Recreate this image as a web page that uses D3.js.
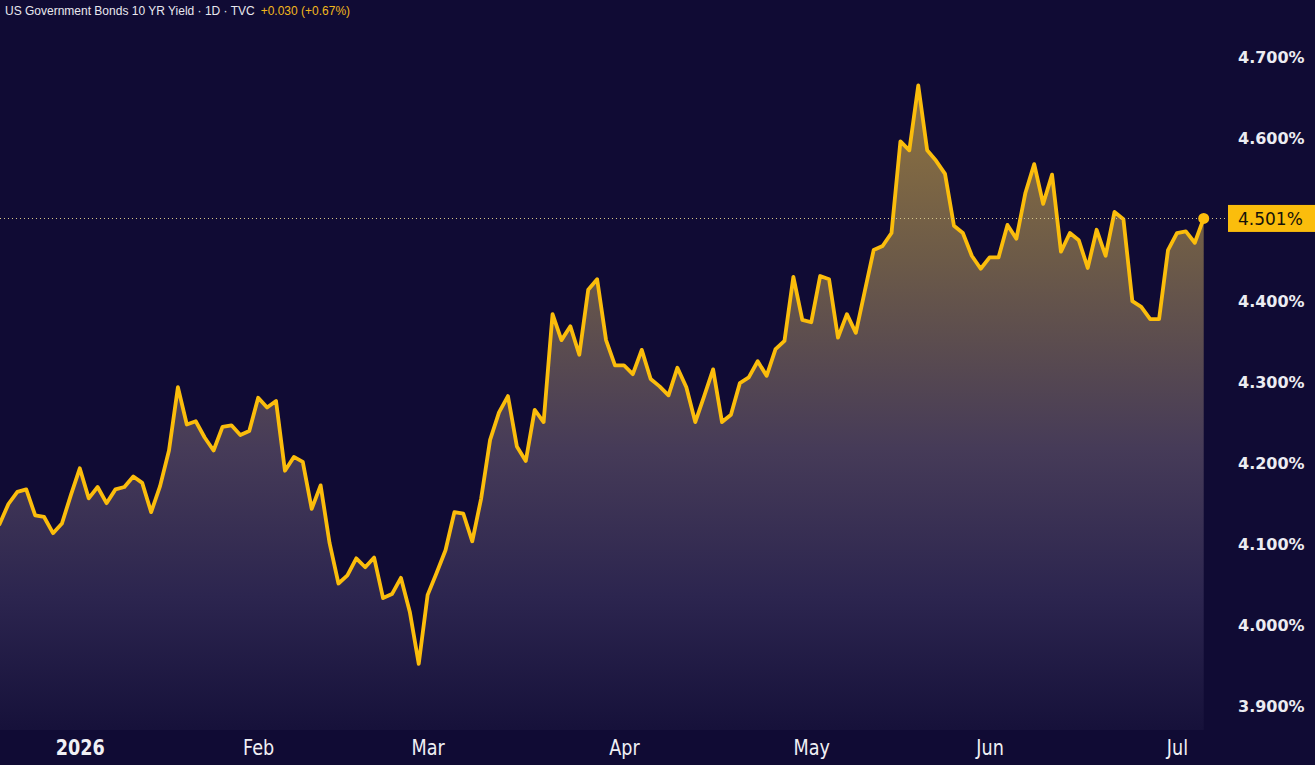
<!DOCTYPE html>
<html>
<head>
<meta charset="utf-8">
<script src="https://cdn.jsdelivr.net/npm/d3@7"></script>
<style>
  html, body { margin: 0; padding: 0; background: #100b34; }
  svg { display: block; }
</style>
</head>
<body>
<svg id="chart" width="1315" height="765"></svg>
<script>
// ---- data (daily closes, trading-day index) ----
const yields = [
  4.124, 4.149, 4.164, 4.167, 4.135, 4.133, 4.113, 4.125, 4.160, 4.193,
  4.156, 4.170, 4.150, 4.167, 4.170, 4.183, 4.175, 4.139, 4.171, 4.215,
  4.293, 4.247, 4.251, 4.231, 4.215, 4.244, 4.246, 4.234, 4.239, 4.280,
  4.268, 4.276, 4.190, 4.207, 4.201, 4.143, 4.172, 4.101, 4.051, 4.061,
  4.082, 4.071, 4.083, 4.033, 4.038, 4.058, 4.016, 3.952, 4.037, 4.064,
  4.092, 4.139, 4.137, 4.103, 4.156, 4.228, 4.262, 4.282, 4.220, 4.202,
  4.265, 4.250, 4.383, 4.351, 4.368, 4.333, 4.413, 4.426, 4.351, 4.320,
  4.320, 4.309, 4.339, 4.303, 4.294, 4.283, 4.317, 4.293, 4.250, 4.282,
  4.315, 4.250, 4.259, 4.298, 4.305, 4.325, 4.307, 4.340, 4.350, 4.429,
  4.376, 4.373, 4.430, 4.426, 4.354, 4.383, 4.360, 4.411, 4.462, 4.467,
  4.483, 4.596, 4.585, 4.665, 4.585, 4.572, 4.556, 4.492, 4.483, 4.455,
  4.439, 4.453, 4.453, 4.493, 4.476, 4.532, 4.568, 4.519, 4.555, 4.460,
  4.483, 4.474, 4.440, 4.487, 4.455, 4.509, 4.500, 4.399, 4.392, 4.377,
  4.377, 4.462, 4.483, 4.485, 4.471, 4.501
];
const monthLabels = ["2026", "Feb", "Mar", "Apr", "May", "Jun", "Jul"];
const monthStartIndex = [9, 29, 48, 70, 91, 111, 132];
// 4.500% sits under the last-price tag, so it is not drawn
const yTicks = [3.9, 4.0, 4.1, 4.2, 4.3, 4.4, 4.6, 4.7];
const titleText = "US Government Bonds 10 YR Yield \u00b7 1D \u00b7 TVC";
const changeText = "+0.030 (+0.67%)";

// ---- layout ----
const svg = d3.select("#chart");
const W = 1315, H = 765;
const paneRight = 1218, paneBottom = 730;

const x = d3.scaleLinear().domain([0, yields.length - 1]).range([-0.5, 1203.7]);
const y = d3.scaleLinear().domain([3.9, 4.7]).range([706, 57]);

svg.append("rect").attr("width", W).attr("height", H).attr("fill", "#100b34");

const defs = svg.append("defs");
const grad = defs.append("linearGradient")
  .attr("id", "areaGrad")
  .attr("gradientUnits", "userSpaceOnUse")
  .attr("x1", 0).attr("x2", 0).attr("y1", 60).attr("y2", paneBottom);
[
  [0.00, "#94773e"],
  [0.30, "#6c5a48"],
  [0.58, "#463b58"],
  [0.80, "#2c254f"],
  [1.00, "#16113a"]
].forEach(([o, c]) => grad.append("stop").attr("offset", o).attr("stop-color", c));

const clip = defs.append("clipPath").attr("id", "paneClip");
clip.append("rect").attr("x", 0).attr("y", 0).attr("width", paneRight).attr("height", paneBottom);

const g = svg.append("g").attr("clip-path", "url(#paneClip)");

const area = d3.area()
  .x((d, i) => x(i))
  .y0(paneBottom)
  .y1(d => y(d));
g.append("path").datum(yields).attr("d", area).attr("fill", "url(#areaGrad)");

const last = yields[yields.length - 1];

// dotted last-price line
svg.append("line")
  .attr("x1", 0).attr("x2", 1226)
  .attr("y1", Math.round(y(last)) + 0.5).attr("y2", Math.round(y(last)) + 0.5)
  .attr("stroke", "#d8c88a").attr("stroke-width", 1)
  .attr("stroke-dasharray", "1,3");

const line = d3.line().x((d, i) => x(i)).y(d => y(d));
g.append("path").datum(yields).attr("d", line)
  .attr("fill", "none").attr("stroke", "#fbbd0c")
  .attr("stroke-width", 3.8).attr("stroke-linejoin", "round").attr("stroke-linecap", "round");

svg.append("circle")
  .attr("cx", x(yields.length - 1)).attr("cy", y(last)).attr("r", 5.5)
  .attr("fill", "#fbbd0c");

// right axis
const yAxis = d3.axisRight(y).tickValues(yTicks).tickSize(0).tickPadding(0)
  .tickFormat(d => d3.format(".3f")(d) + "%");
const ya = svg.append("g").attr("transform", "translate(1238,0)").call(yAxis);
ya.select(".domain").remove();
ya.selectAll("text")
  .attr("fill", "#ececf2")
  .style("font-family", "'DejaVu Sans', sans-serif")
  .style("font-size", "16px")
  .style("font-weight", "bold")
  .attr("dy", "0.36em");

// last price tag
const tagY = y(last);
svg.append("rect")
  .attr("x", 1228).attr("y", tagY - 13.5).attr("width", 87).attr("height", 27)
  .attr("fill", "#fbbd0c");
svg.append("text")
  .attr("x", 1238).attr("y", tagY).attr("dy", "0.36em")
  .attr("fill", "#15120a")
  .style("font-family", "'DejaVu Sans', sans-serif")
  .style("font-size", "17px")
  .text(d3.format(".3f")(last) + "%");

// bottom axis
const xAxis = d3.axisBottom(x).tickValues(monthStartIndex).tickSize(0).tickPadding(0)
  .tickFormat((d, i) => monthLabels[i]);
const xa = svg.append("g").attr("transform", "translate(0,747)").call(xAxis);
xa.select(".domain").remove();
xa.selectAll(".tick text")
  .attr("y", 0).attr("dy", "0.36em")
  .attr("fill", "#f0f0f4")
  .attr("transform", "scale(0.84,1)")
  .style("font-family", "'DejaVu Sans', sans-serif")
  .style("font-size", "21px")
  .style("font-weight", (d, i) => i === 0 ? "bold" : "normal");

// title
const title = svg.append("text").attr("x", 5).attr("y", 15)
  .style("font-family", "'Liberation Sans', Arial, sans-serif")
  .style("font-size", "12px");
title.append("tspan").attr("fill", "#e8e8ee").text(titleText);
title.append("tspan").attr("fill", "#f2b81c").attr("dx", 6).text(changeText);
</script>
</body>
</html>
